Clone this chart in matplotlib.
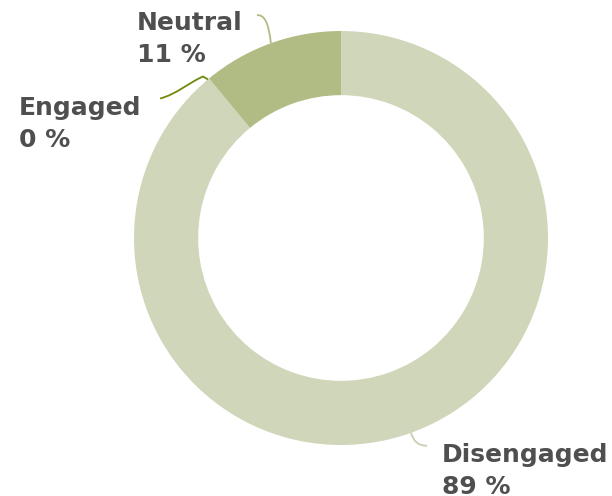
import numpy as np
import matplotlib

matplotlib.use("Agg")
from matplotlib import pyplot as plt
from matplotlib.patches import PathPatch
from matplotlib.path import Path

# * DATA

categories = ["Disengaged", "Engaged", "Neutral"]
shares = [89, 0, 11]
slice_colors = ["#d0d6b9", "#d0d6b9", "#b1bc85"]
line_colors = ["#c9cfae", "#6e8a0c", "#b1bc85"]

# * FIGURE

W, H = 612, 496
fig = plt.figure(figsize=(W / 100, H / 100), dpi=100)

# ring centre (341, 238) px, outer radius 207 px
cx, cy, r = 341, 238, 207
ax = fig.add_axes([(cx - r) / W, (H - cy - r) / H, 2 * r / W, 2 * r / H])
wedges, _ = ax.pie(
    shares,
    colors=slice_colors,
    startangle=90,
    counterclock=False,
    radius=1,
    wedgeprops=dict(width=0.31, linewidth=0),
)
ax.set_xlim(-1, 1)
ax.set_ylim(-1, 1)
ax.set_aspect("equal")
ax.axis("off")


def fig_px(x, y):
    """Pixel position (from top-left) to figure fraction."""
    return x / W, 1 - y / H


# label text anchor (top-left, px)
label_pos = {
    "Disengaged": (442, 443),
    "Engaged": (19, 96),
    "Neutral": (137, 11),
}

# connector shapes, offsets in px relative to the wedge edge point
def connector(name, ex, ey):
    if name == "Disengaged":
        verts = [(ex, ey), (ex + 3, ey + 13), (ex + 16, ey + 13)]
        codes = [Path.MOVETO, Path.CURVE3, Path.CURVE3]
    elif name == "Neutral":
        verts = [(ex - 14, ey - 28), (ex - 3, ey - 30), (ex, ey)]
        codes = [Path.MOVETO, Path.CURVE3, Path.CURVE3]
    else:
        verts = [(ex - 49, ey + 20), (ex - 33, ey + 16), (ex - 20, ey + 4),
                 (ex - 6, ey - 2), (ex - 1, ey + 1)]
        codes = [Path.MOVETO, Path.CURVE4, Path.CURVE4, Path.CURVE4, Path.LINETO]
    return Path([fig_px(x, y) for x, y in verts], codes)


for wedge, name, share, lc in zip(wedges, categories, shares, line_colors):
    mid = np.deg2rad((wedge.theta1 + wedge.theta2) / 2)
    dx, dy = ax.transData.transform((np.cos(mid), np.sin(mid)))
    ex, ey = dx, H - dy
    fig.text(
        *fig_px(*label_pos[name]),
        f"{name}\n{share} %",
        ha="left",
        va="top",
        fontsize=18,
        fontweight="bold",
        color="#4f4f4f",
        linespacing=1.4,
    )
    fig.add_artist(
        PathPatch(connector(name, ex, ey), transform=fig.transFigure,
                  facecolor="none", edgecolor=lc, lw=1.3)
    )

fig.savefig("out.png", dpi=100)
